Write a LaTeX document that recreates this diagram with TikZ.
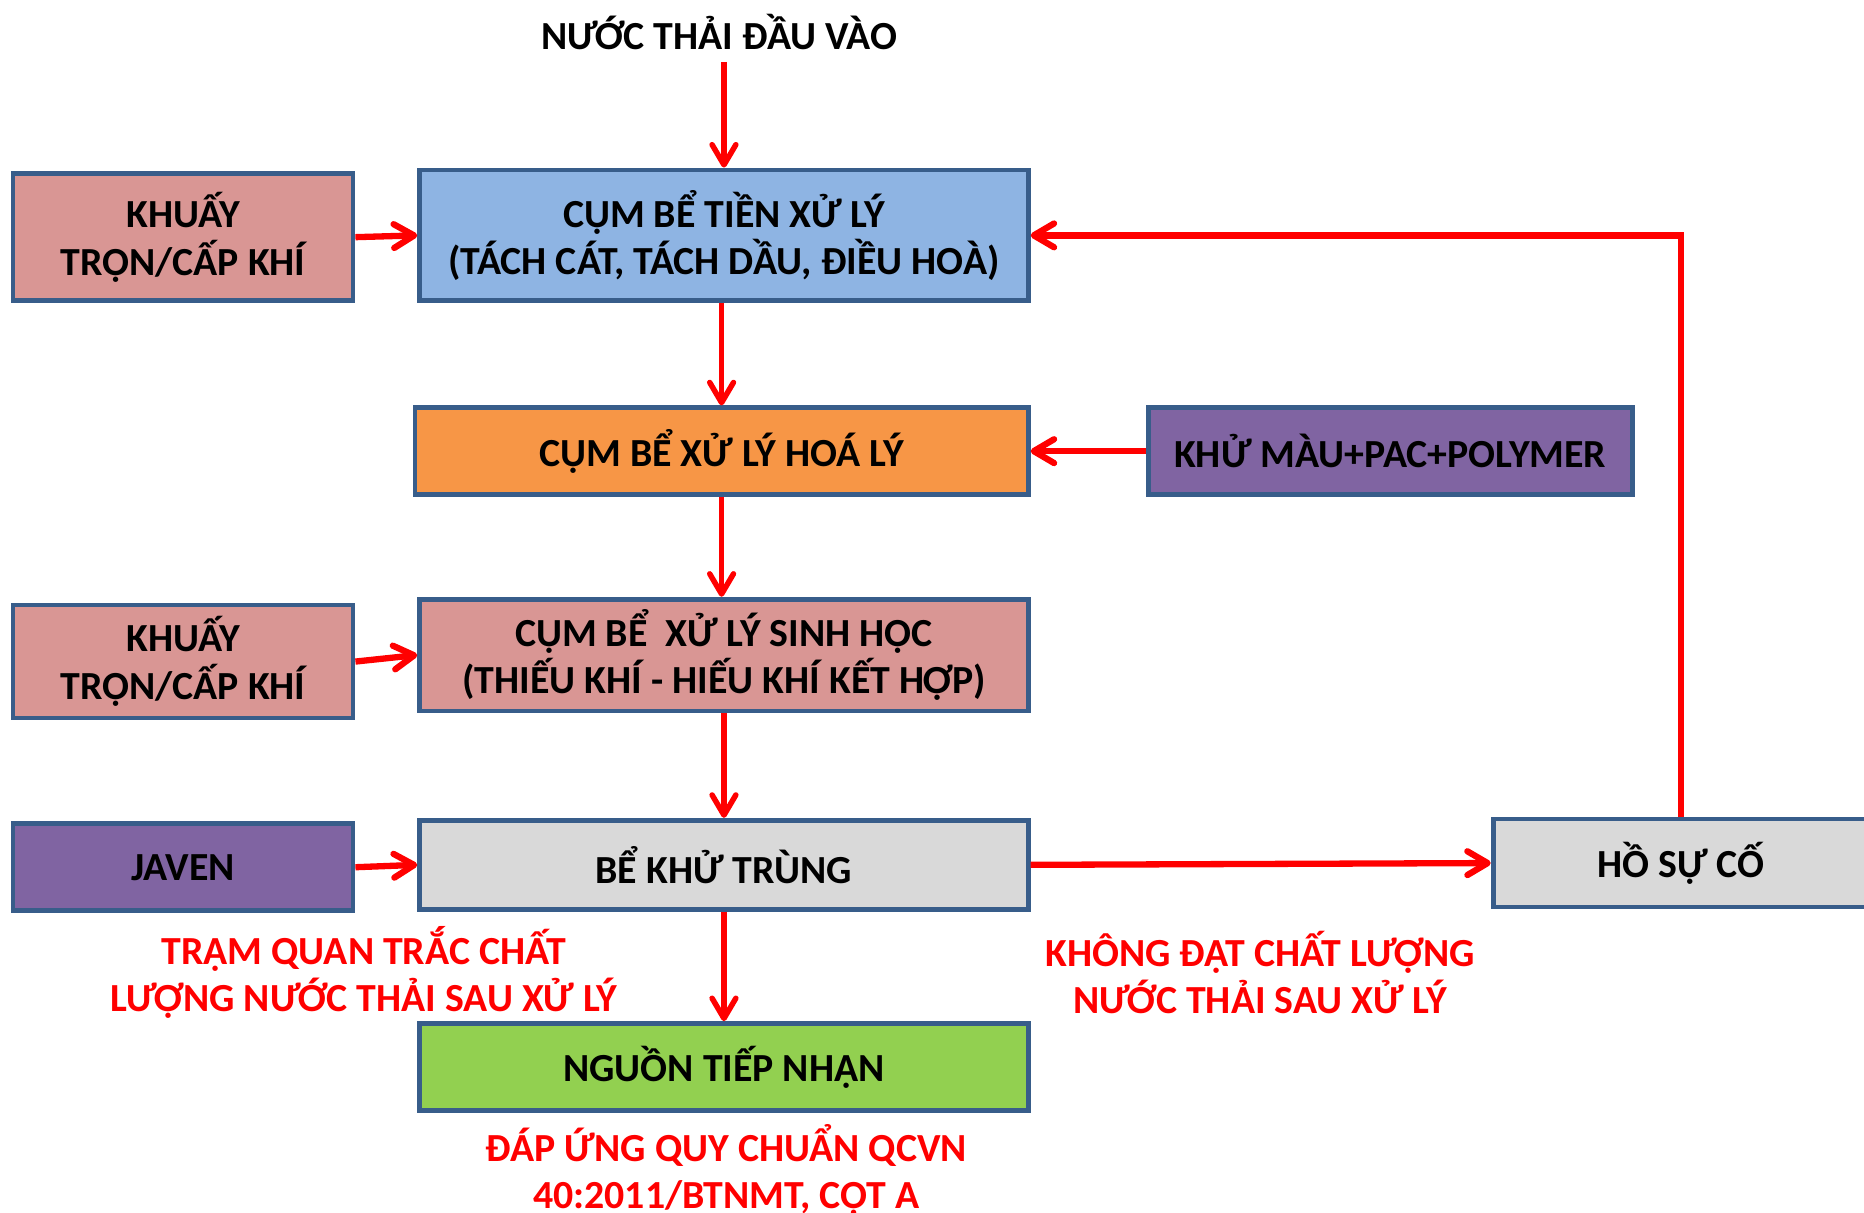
\documentclass[tikz,border=0pt]{standalone}
\usepackage{fontspec}
\setmainfont{Carlito}
\usetikzlibrary{arrows.meta}
\definecolor{bord}{HTML}{385D8A}
\definecolor{cblue}{HTML}{8EB4E3}
\definecolor{cpink}{HTML}{D99694}
\definecolor{corange}{HTML}{F79646}
\definecolor{cpurple}{HTML}{8064A2}
\definecolor{cgray}{HTML}{D9D9D9}
\definecolor{cgreen}{HTML}{92D050}
\definecolor{cred}{HTML}{FF0000}
\tikzset{
  box/.style={draw=bord, line width=4pt, align=center, inner sep=0pt,
    font=\bfseries\fontsize{33.5}{40}\selectfont, text=black},
  lbl/.style={align=center, inner sep=0pt, font=\bfseries\fontsize{33.5}{40}\selectfont},
  flow/.style={draw=cred, line width=5.3pt,
    -{Straight Barb[length=17pt,width=20pt,line cap=round,line join=round]}},
  vflow/.style={flow, line width=4.6pt},
}
\begin{document}
\begin{tikzpicture}[x=1pt,y=-1pt]
\useasboundingbox (0,0) rectangle (1568,1020);
\node[lbl] (t) at (605,27) {NƯỚC THẢI ĐẦU VÀO};
\node[box, fill=cblue, minimum width=512pt, minimum height=110pt] (b1) at (609,198) {CỤM BỂ TIỀN XỬ LÝ\\(TÁCH CÁT, TÁCH DẦU, ĐIỀU HOÀ)};
\node[box, fill=cpink, minimum width=286pt, minimum height=107pt] (k1) at (154,199.5) {KHUẤY\\TRỘN/CẤP KHÍ};
\node[box, fill=corange, minimum width=516pt, minimum height=73pt] (b2) at (607,379.5) {CỤM BỂ XỬ LÝ HOÁ LÝ};
\node[box, fill=cpurple, minimum width=407pt, minimum height=73pt] (km) at (1169.5,379.5) {KHỬ MÀU+PAC+POLYMER};
\node[box, fill=cpink, minimum width=512pt, minimum height=94pt] (b3) at (609,551) {CỤM BỂ \ XỬ LÝ SINH HỌC\\(THIẾU KHÍ - HIẾU KHÍ KẾT HỢP)};
\node[box, fill=cpink, minimum width=286pt, minimum height=95pt] (k2) at (154,556.5) {KHUẤY\\TRỘN/CẤP KHÍ};
\node[box, fill=cgray, minimum width=512pt, minimum height=75pt] (b4) at (609,727.5) {BỂ KHỬ TRÙNG};
\node[box, fill=cpurple, minimum width=286pt, minimum height=73pt] (jv) at (154,729.5) {JAVEN};
\node[box, fill=cgray, minimum width=316pt, minimum height=74pt] (hs) at (1414,726) {HỒ SỰ CỐ};
\node[box, fill=cgreen, minimum width=512pt, minimum height=73pt] (b5) at (609,897.5) {NGUỒN TIẾP NHẬN};
\node[lbl, text=cred] (l1) at (306,818) {TRẠM QUAN TRẮC CHẤT\\LƯỢNG NƯỚC THẢI SAU XỬ LÝ};
\node[lbl, text=cred] (l2) at (1060,818) {KHÔNG ĐẠT CHẤT LƯỢNG\\NƯỚC THẢI SAU XỬ LÝ};
\node[lbl, text=cred] (l3) at (611,984) {ĐÁP ỨNG QUY CHUẨN QCVN\\40:2011/BTNMT, CỘT A};
\coordinate (tin) at (609,52);
\draw[vflow] (tin) -- (b1.north);
\draw[flow] (k1.east) -- (b1.west);
\draw[vflow] (b1.south -| b2.north) -- (b2.north);
\draw[flow] (km.west) -- (b2.east);
\draw[vflow] (b2.south) -- (b2.south |- b3.north);
\draw[flow] (k2.east) -- (b3.west);
\draw[vflow] (b3.south) -- (b4.north);
\draw[flow] (jv.east) -- (b4.west);
\draw[flow] (b4.east) -- (hs.west);
\draw[flow] (hs.north) |- (b1.east);
\draw[vflow] (b4.south) -- (b5.north);
\end{tikzpicture}
\end{document}
